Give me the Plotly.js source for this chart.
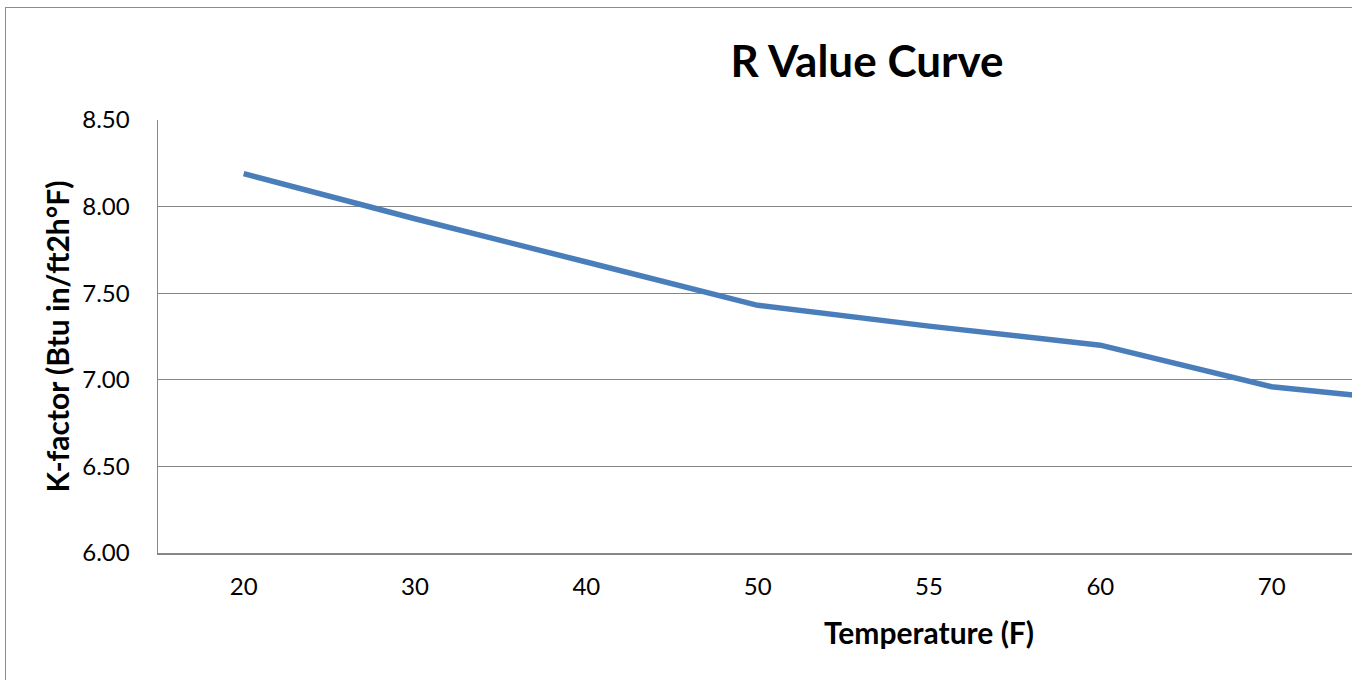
<!DOCTYPE html>
<html>
<head>
<meta charset="utf-8">
<script src="https://cdn.plot.ly/plotly-3.0.1.min.js"></script>
<style>
html, body { margin: 0; padding: 0; overflow: hidden; background: #fff; width: 1352px; height: 680px; }
#frame { position: absolute; left: 5px; top: 7px; width: 1722px; height: 700px; border: 1px solid #8c8c8c; background: #fff; }
#chart { width: 1722px; height: 700px; }
</style>
</head>
<body>
<div id="frame"><div id="chart"></div></div>
<script>
const temperatures = ["20", "30", "40", "50", "55", "60", "70", "75", "80"];
const kFactor = [8.19, 7.93, 7.68, 7.43, 7.31, 7.20, 6.96, 6.86, 6.76];
const yTicks = [6.0, 6.5, 7.0, 7.5, 8.0, 8.5];
const visibleTempLabels = ["20", "30", "40", "50", "55", "60", "70"];

const fontFam = "Lato, 'Open Sans', sans-serif";

const trace = {
  type: 'scatter',
  mode: 'lines',
  x: temperatures,
  y: kFactor,
  line: { color: '#4a7ebb', width: 5.5 },
  hoverinfo: 'x+y',
  showlegend: false
};

const layout = {
  width: 1722,
  height: 700,
  margin: { l: 152, r: 28, t: 112, b: 155 },
  paper_bgcolor: '#ffffff',
  plot_bgcolor: '#ffffff',
  font: { family: fontFam, color: '#000' },
  title: {
    text: '<b>R Value Curve</b>',
    font: { family: fontFam, size: 44, color: '#000' },
    xref: 'container', x: 0.5, xanchor: 'center',
    yref: 'container', y: 1 - 54 / 700, yanchor: 'middle'
  },
  xaxis: {
    type: 'category',
    range: [-0.5, temperatures.length - 0.5],
    tickvals: visibleTempLabels,
    ticktext: visibleTempLabels,
    showline: true, linecolor: '#868686', linewidth: 1.5,
    showgrid: false, zeroline: false,
    ticks: 'outside', ticklen: 12, tickcolor: 'rgba(0,0,0,0)',
    tickfont: { family: fontFam, size: 24, color: '#000' },
    title: { text: '<b>Temperature (F)</b>', font: { family: fontFam, size: 30, color: '#000' }, standoff: 23 },
    fixedrange: true
  },
  yaxis: {
    range: [6.0, 8.5],
    tickvals: yTicks,
    tickformat: '.2f',
    showline: true, linecolor: '#868686', linewidth: 1.5,
    showgrid: true, gridcolor: '#868686', gridwidth: 1.3,
    zeroline: false,
    ticks: 'outside', ticklen: 22, tickcolor: 'rgba(0,0,0,0)',
    tickfont: { family: fontFam, size: 24, color: '#000' },
    title: { text: '<b>K-factor (Btu in/ft2h°F)</b>', font: { family: fontFam, size: 30, color: '#000' }, standoff: 4 },
    fixedrange: true
  }
};

Plotly.newPlot('chart', [trace], layout, { displayModeBar: false, staticPlot: true });
</script>
</body>
</html>
